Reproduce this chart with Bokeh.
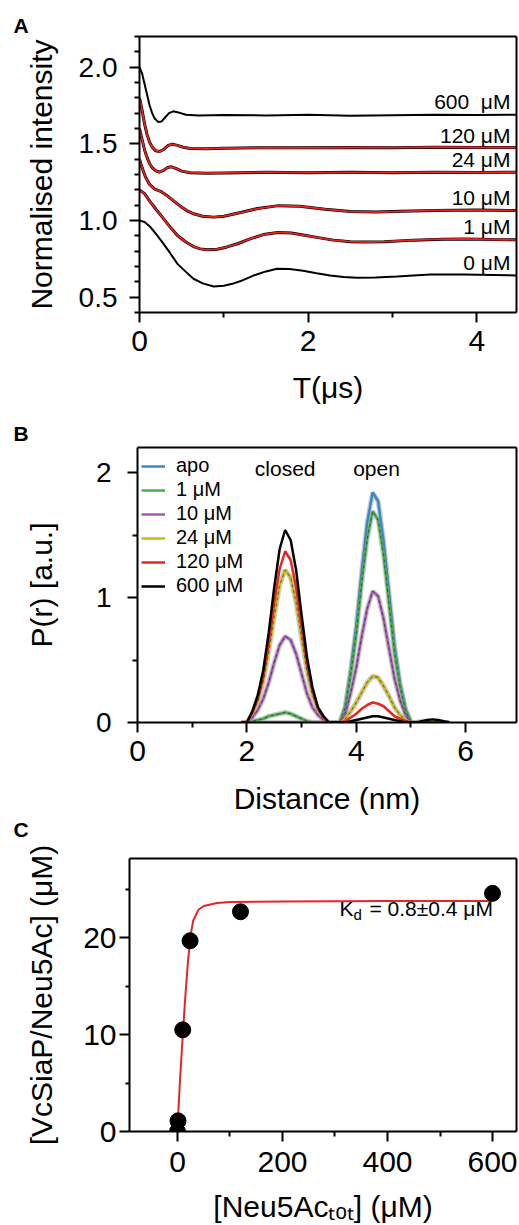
from bokeh.plotting import figure
from bokeh.models import (Range1d, FixedTicker, Label, Legend, LegendItem,
                          LinearAxis, PrintfTickFormatter, Title)
from bokeh.embed import file_html
from bokeh.resources import INLINE

FONT = "Liberation Sans"
RED = "#ec2323"

# ---------------- Panel A: DEER traces (T in us, normalised intensity, offset) ----------------
t_0 = [0, 0.06, 0.13, 0.2, 0.27, 0.36, 0.45, 0.55, 0.64, 0.75, 0.88, 1.0, 1.1, 1.2, 1.35, 1.5,
       1.63, 1.78, 1.94, 2.1, 2.26, 2.42, 2.58, 2.8, 3.05, 3.45, 3.84, 4.2, 4.47]
v_0 = [1.00, 0.99, 0.957, 0.91, 0.859, 0.79, 0.717, 0.665, 0.62, 0.59, 0.57, 0.575, 0.587, 0.605,
       0.641, 0.668, 0.685, 0.684, 0.672, 0.656, 0.641, 0.632, 0.626, 0.628, 0.635, 0.648, 0.648,
       0.645, 0.641]
t_1 = [0, 0.06, 0.13, 0.2, 0.27, 0.36, 0.45, 0.55, 0.64, 0.72, 0.81, 0.92, 1.03, 1.17, 1.31, 1.47,
       1.64, 1.8, 1.94, 2.1, 2.3, 2.5, 2.66, 2.9, 3.25, 3.6, 3.84, 4.2, 4.47]
v_1 = [1.20, 1.175, 1.12, 1.07, 1.022, 0.96, 0.902, 0.86, 0.83, 0.815, 0.809, 0.813, 0.826, 0.85,
       0.88, 0.908, 0.922, 0.918, 0.905, 0.89, 0.872, 0.862, 0.859, 0.862, 0.872, 0.878, 0.88,
       0.876, 0.874]
t_10 = [0, 0.03, 0.07, 0.12, 0.18, 0.25, 0.32, 0.40, 0.48, 0.56, 0.65, 0.75, 0.88, 1.0, 1.2, 1.4,
        1.65, 1.9, 2.2, 2.5, 2.8, 3.1, 3.5, 4.0, 4.47]
v_10 = [1.40, 1.345, 1.285, 1.235, 1.205, 1.19, 1.165, 1.13, 1.095, 1.065, 1.042, 1.028, 1.022,
        1.028, 1.052, 1.078, 1.097, 1.093, 1.074, 1.058, 1.055, 1.06, 1.066, 1.068, 1.065]
t_24 = [0, 0.03, 0.06, 0.09, 0.12, 0.15, 0.19, 0.23, 0.28, 0.33, 0.38, 0.43, 0.5, 0.6, 0.8, 1.0,
        1.5, 2.0, 2.5, 3.0, 3.5, 4.0, 4.47]
v_24 = [1.60, 1.53, 1.46, 1.41, 1.37, 1.345, 1.325, 1.315, 1.325, 1.345, 1.35, 1.34, 1.322, 1.312,
        1.308, 1.31, 1.315, 1.312, 1.314, 1.312, 1.315, 1.313, 1.315]
t_120 = [0, 0.03, 0.06, 0.09, 0.12, 0.15, 0.19, 0.24, 0.29, 0.34, 0.39, 0.45, 0.52, 0.6, 0.8, 1.0,
         1.5, 2.0, 2.5, 3.0, 3.5, 4.0, 4.47]
v_120 = [1.80, 1.72, 1.63, 1.56, 1.51, 1.48, 1.455, 1.45, 1.465, 1.49, 1.497, 1.49, 1.478, 1.47,
         1.468, 1.472, 1.475, 1.474, 1.476, 1.475, 1.478, 1.476, 1.476]
t_600 = [0, 0.03, 0.06, 0.09, 0.12, 0.15, 0.18, 0.22, 0.26, 0.30, 0.35, 0.40, 0.46, 0.55, 0.7, 1.0,
         1.5, 2.0, 2.5, 3.0, 3.5, 4.0, 4.47]
v_600 = [2.0, 1.96, 1.89, 1.82, 1.75, 1.70, 1.665, 1.643, 1.645, 1.67, 1.70, 1.712, 1.705, 1.69,
         1.685, 1.688, 1.685, 1.69, 1.683, 1.687, 1.69, 1.688, 1.69]
labels_A = ["600 \u00a0μM", "120 μM", "24 μM", "10 μM", "1 μM", "0 μM"]
labels_A_y = [1.773, 1.555, 1.398, 1.153, 0.958, 0.728]

# ---------------- Panel B: distance distributions ----------------
r_nm = [1.9, 2.0, 2.1, 2.2, 2.3, 2.4, 2.5, 2.6, 2.7, 2.8, 2.9, 3.0, 3.1, 3.2, 3.3, 3.4, 3.5,
        3.6, 3.7, 3.8, 3.9, 4.0, 4.1, 4.2, 4.3, 4.4, 4.5, 4.6, 4.7, 4.8, 4.9, 5.0,
        5.1, 5.2, 5.3, 5.4, 5.5, 5.6, 5.7]
p_apo = [0, 0, 0, 0, 0, 0, 0, 0, 0, 0, 0, 0, 0, 0, 0, 0, 0,
         0, 0, 0.13, 0.42, 0.77, 1.21, 1.60, 1.84, 1.77, 1.45, 1.03, 0.61, 0.31, 0.11, 0,
         0, 0, 0, 0, 0, 0, 0]
p_1 = [0, 0, 0.01, 0.02, 0.03, 0.05, 0.06, 0.07, 0.08, 0.07, 0.05, 0.03, 0.01, 0, 0, 0, 0,
       0, 0, 0.12, 0.39, 0.71, 1.12, 1.47, 1.69, 1.62, 1.34, 0.95, 0.56, 0.29, 0.10, 0,
       0, 0, 0, 0, 0, 0, 0]
p_10 = [0, 0, 0.04, 0.10, 0.19, 0.32, 0.48, 0.62, 0.69, 0.66, 0.55, 0.39, 0.23, 0.12, 0.06, 0.02, 0,
        0, 0, 0.07, 0.24, 0.44, 0.69, 0.91, 1.05, 1.01, 0.83, 0.59, 0.35, 0.18, 0.06, 0,
        0, 0, 0, 0, 0, 0, 0]
p_24 = [0, 0, 0.07, 0.17, 0.33, 0.57, 0.85, 1.10, 1.22, 1.16, 0.96, 0.68, 0.41, 0.22, 0.10, 0.04, 0,
        0, 0, 0.03, 0.09, 0.16, 0.24, 0.32, 0.37, 0.36, 0.29, 0.21, 0.12, 0.06, 0.02, 0,
        0, 0.01, 0.01, 0.01, 0.005, 0, 0]
p_120 = [0, 0, 0.08, 0.19, 0.37, 0.64, 0.96, 1.23, 1.37, 1.30, 1.08, 0.77, 0.47, 0.25, 0.11, 0.04, 0,
         0, 0, 0.01, 0.04, 0.07, 0.11, 0.14, 0.16, 0.15, 0.13, 0.09, 0.05, 0.03, 0.01, 0,
         0, 0, 0, 0, 0, 0, 0]
p_600 = [0, 0, 0.09, 0.22, 0.42, 0.72, 1.08, 1.39, 1.54, 1.46, 1.22, 0.86, 0.52, 0.28, 0.12, 0.05, 0,
         0, 0, 0, 0.01, 0.02, 0.03, 0.04, 0.05, 0.05, 0.04, 0.03, 0.02, 0.01, 0, 0,
         0, 0.01, 0.02, 0.025, 0.02, 0.01, 0]
series_B = ["apo", "1 μM", "10 μM", "24 μM", "120 μM", "600 μM"]
colors_B = ["#3a88c8", "#46b04a", "#a35bb2", "#c8bc0c", "#ec2323", "#000000"]

# ---------------- Panel C: binding isotherm ----------------
neu_tot = [0, 1, 10, 24, 120, 600]
bound = [0, 1.1, 10.5, 19.7, 22.7, 24.6]
fit_x = [1, 5, 10, 15, 20, 25, 30, 40, 50, 75, 100, 200, 300, 400, 500, 600]
fit_y = [1.4, 5.5, 9.9, 14.0, 17.6, 20.3, 21.8, 22.9, 23.3, 23.6, 23.7, 23.75, 23.78, 23.8, 23.8, 23.8]


def style_axis(ax, fs, standoff, minor_out=5):
    ax.axis_line_width = 2
    ax.axis_line_color = "black"
    ax.major_tick_line_width = 2
    ax.minor_tick_line_width = 2
    ax.major_tick_line_color = "black"
    ax.minor_tick_line_color = "black"
    ax.major_tick_out = 10
    ax.major_tick_in = 0
    ax.minor_tick_out = minor_out
    ax.minor_tick_in = 0
    ax.major_label_text_font = FONT
    ax.major_label_text_font_size = fs
    ax.major_label_text_color = "black"
    ax.major_label_standoff = standoff
    ax.axis_label_text_font = FONT
    ax.axis_label_text_font_size = "30px"
    ax.axis_label_text_font_style = "normal"
    ax.axis_label_text_color = "black"


def add_border(p, side, ticks):
    ax = LinearAxis(ticker=FixedTicker(ticks=ticks),
                    major_label_overrides={t: "" for t in ticks},
                    major_label_text_font_size="1px", major_label_standoff=0,
                    major_tick_out=0, major_tick_in=0, minor_tick_out=0, minor_tick_in=0,
                    major_tick_line_color=None, minor_tick_line_color=None,
                    axis_line_width=2, axis_line_color="black")
    p.add_layout(ax, side)


def letter_title(text, offset, standoff, valign="bottom"):
    return Title(text=text, align="left", offset=offset, standoff=standoff,
                 vertical_align=valign, text_font=FONT, text_font_size="21px",
                 text_font_style="bold", text_color="black")


def base_fig(h, xr, yr, left, top, bottom):
    p = figure(width=519, height=h, x_range=xr, y_range=yr, output_backend="svg",
               toolbar_location=None, min_border_left=left, min_border_right=3,
               min_border_top=top, min_border_bottom=bottom)
    p.grid.visible = False
    p.outline_line_color = None
    p.background_fill_color = "white"
    p.border_fill_color = "white"
    return p


def txt(p, x, y, text, size, align="left", style="normal", xo=0):
    p.add_layout(Label(x=x, y=y, text=text, x_offset=xo, text_font=FONT,
                       text_font_size=size, text_font_style=style, text_color="black",
                       text_align=align, text_baseline="middle"))


# ================= Panel A =================
pA = base_fig(412, Range1d(0, 4.47), Range1d(0.4, 2.2), 139, 36, 100)
pA.title = letter_title("A", -126, 0)
ticks_Ax, ticks_Ay = [0, 2, 4], [0.5, 1.0, 1.5, 2.0]
pA.xaxis.ticker = FixedTicker(ticks=ticks_Ax, minor_ticks=[1, 3])
pA.yaxis.ticker = FixedTicker(ticks=ticks_Ay,
                              minor_ticks=[0.4, 0.6, 0.7, 0.8, 0.9, 1.1, 1.2, 1.3, 1.4, 1.6, 1.7,
                                           1.8, 1.9, 2.1, 2.2])
pA.yaxis.formatter = PrintfTickFormatter(format="%.1f")
style_axis(pA.xaxis[0], "30px", 8)
style_axis(pA.yaxis[0], "28px", 12)
pA.xaxis.axis_label = "T(μs)"
pA.xaxis.axis_label_standoff = 17
pA.yaxis.axis_label = "Normalised intensity"
pA.yaxis.axis_label_standoff = 18
add_border(pA, "above", ticks_Ax)
add_border(pA, "right", ticks_Ay)

traces = [(t_0, v_0, False), (t_1, v_1, True), (t_10, v_10, True),
          (t_24, v_24, True), (t_120, v_120, True), (t_600, v_600, False)]
for t, v, fit in traces:
    pA.line(t, v, line_color="black", line_width=3 if fit else 2)
    if fit:
        pA.line(t, v, line_color=RED, line_width=1.8)

for lab, ly in zip(labels_A, labels_A_y):
    txt(pA, 4.398, ly, lab, "21px", align="right")

# ================= Panel B =================
pB = base_fig(430, Range1d(0, 6.93), Range1d(0, 2.2), 137, 35, 119)
pB.title = letter_title("B", -124, 6)
ticks_Bx, ticks_By = [0, 2, 4, 6], [0, 1, 2]
pB.xaxis.ticker = FixedTicker(ticks=ticks_Bx, minor_ticks=[1, 3, 5])
pB.yaxis.ticker = FixedTicker(ticks=ticks_By, minor_ticks=[0.5, 1.5])
style_axis(pB.xaxis[0], "30px", 8)
style_axis(pB.yaxis[0], "28px", 16)
pB.xaxis.axis_label = "Distance (nm)"
pB.xaxis.axis_label_standoff = 18
pB.yaxis.axis_label = "P(r) [a.u.]"
pB.yaxis.axis_label_standoff = 35
add_border(pB, "above", ticks_Bx)
add_border(pB, "right", ticks_By)
# panel letter of the next panel sits beside the "Distance (nm)" title
pB.add_layout(letter_title("C", -124, 0, valign="top"), "below")

ys_B = [p_apo, p_1, p_10, p_24, p_120, p_600]
for ys in ys_B[:4]:
    pB.line(r_nm, ys, line_color="#a8a8a8", line_width=5, line_alpha=0.6)
rends = []
for ys, c in zip(ys_B, colors_B):
    rends.append(pB.line(r_nm, ys, line_color=c, line_width=2.5))
for ys in ys_B[1:4]:
    pB.line(r_nm, ys, line_color="#333333", line_width=1, line_dash="3 3", line_alpha=0.7)

legend = Legend(items=[LegendItem(label=l, renderers=[r]) for l, r in zip(series_B, rends)],
                location=(4, 125), border_line_color=None, background_fill_alpha=0,
                label_text_font=FONT, label_text_font_size="20px", label_text_color="black",
                glyph_width=24, glyph_height=20, label_height=20, spacing=1, padding=0,
                margin=0, label_standoff=11)
pB.add_layout(legend)

txt(pB, 2.7, 2.03, "closed", "21px", align="center")
txt(pB, 4.37, 2.03, "open", "21px", align="center")

# ================= Panel C =================
pC = base_fig(383, Range1d(-91.4, 645.7), Range1d(0, 28.2), 129, 16, 91)
pC.title.text = ""
pC.title.standoff = 0
ticks_Cx, ticks_Cy = [0, 200, 400, 600], [0, 10, 20]
pC.xaxis.ticker = FixedTicker(ticks=ticks_Cx, minor_ticks=[100, 300, 500])
pC.yaxis.ticker = FixedTicker(ticks=ticks_Cy, minor_ticks=[5, 15, 25])
style_axis(pC.xaxis[0], "30px", 10)
style_axis(pC.yaxis[0], "30px", 3, minor_out=4)
pC.xaxis.axis_label = "[Neu5Acₜₒₜ] (μM)"
pC.xaxis.axis_label_standoff = 15
pC.yaxis.axis_label = "[VcSiaP/Neu5Ac] (μM)"
pC.yaxis.axis_label_standoff = 22
add_border(pC, "above", ticks_Cx)
add_border(pC, "right", ticks_Cy)

pC.line(fit_x, fit_y, line_color=RED, line_width=2)
pC.scatter(neu_tot, bound, size=16, color="black")

# Kd annotation
txt(pC, 308.6, 23.0, "K", "21px")
txt(pC, 308.6, 22.45, "d", "15px", xo=14)
txt(pC, 308.6, 23.0, "= 0.8±0.4 μM", "21px", xo=30)

# three independent roots stacked vertically, so that each frame keeps its own left edge
open("out.html", "w").write(file_html([pA, pB, pC], INLINE))
